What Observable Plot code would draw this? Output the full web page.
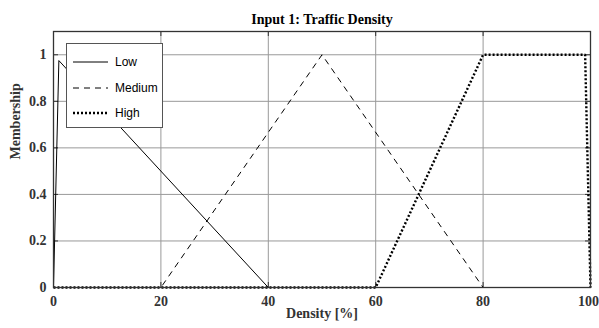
<!DOCTYPE html>
<html>
<head>
<meta charset="utf-8">
<script src="https://cdn.jsdelivr.net/npm/d3@7"></script>
<script src="https://cdn.jsdelivr.net/npm/@observablehq/plot@0.6"></script>
<style>
  html, body { margin: 0; padding: 0; background: #fff; }
  #wrap { position: relative; width: 599px; height: 328px; }
  #legend { position: absolute; left: 66px; top: 43px; width: 97px; height: 85px;
            border: 1px solid #555; background: #fff; box-sizing: border-box; }
</style>
</head>
<body>
<div id="wrap"></div>
<script>
// ---- data ----
const seriesNames = ["Low", "Medium", "High"];
const lowX = [0, 1, 40, 100];
const lowY = [0, 0.975, 0, 0];
const mediumX = [0, 20, 50, 80, 100];
const mediumY = [0, 0, 1, 0, 0];
const highX = [0, 60, 80, 99, 100];
const highY = [0, 0, 1, 1, 0];
const xTicks = [0, 20, 40, 60, 80, 100];
const yTicks = [0, 0.2, 0.4, 0.6, 0.8, 1];
const titleText = "Input 1: Traffic Density";
const xLabel = "Density [%]";
const yLabel = "Membership";

// ---- styles ----
const styles = {
  Low: { strokeWidth: 1, dash: null },
  Medium: { strokeWidth: 1, dash: "6,5" },
  High: { strokeWidth: 2.4, dash: "2,2" }
};
const toRows = (xs, ys, name) => xs.map((x, i) => ({ x, y: ys[i], name }));
const rows = {
  Low: toRows(lowX, lowY, "Low"),
  Medium: toRows(mediumX, mediumY, "Medium"),
  High: toRows(highX, highY, "High")
};

const W = 599, H = 328;
const mL = 53, mR = 9, mT = 31, mB = 41;
const plotH = H - mT - mB, plotW = W - mL - mR;
const serif = "'Liberation Serif', 'Times New Roman', serif";

const gridX = xTicks.filter(d => d > 0 && d < 100);
const gridY = yTicks.filter(d => d > 0);
const xTicksInner = xTicks.slice(0, -1);
const xTickLast = xTicks.slice(-1);

const chart = Plot.plot({
  width: W, height: H,
  marginLeft: mL, marginRight: mR, marginTop: mT, marginBottom: mB,
  style: { fontFamily: serif, fontSize: "14px", fontWeight: "bold", background: "#fff", color: "#333" },
  x: { domain: [0, 100], ticks: xTicks, label: null },
  y: { domain: [0, 1.1], ticks: yTicks, label: null },
  marks: [
    Plot.gridX(gridX, { stroke: "#999", strokeOpacity: 1, strokeWidth: 1 }),
    Plot.gridY(gridY, { stroke: "#999", strokeOpacity: 1, strokeWidth: 1 }),
    // inward tick marks
    Plot.gridX(xTicks, { stroke: "#333", strokeOpacity: 1, insetBottom: plotH - 5 }),
    Plot.gridX(xTicks, { stroke: "#333", strokeOpacity: 1, insetTop: plotH - 5 }),
    Plot.gridY(yTicks, { stroke: "#333", strokeOpacity: 1, insetRight: plotW - 5 }),
    Plot.gridY(yTicks, { stroke: "#333", strokeOpacity: 1, insetLeft: plotW - 5 }),
    Plot.axisX(xTicksInner, { anchor: "bottom", tickSize: 0, tickPadding: 9, label: null, fill: "#333", tickFormat: d => String(d) }),
    Plot.axisX(xTickLast, { anchor: "bottom", tickSize: 0, tickPadding: 9, label: null, fill: "#333", dx: -2, tickFormat: d => String(d) }),
    Plot.axisY(yTicks, { anchor: "left", tickSize: 0, tickPadding: 7, label: null, fill: "#333", tickFormat: d => String(d) }),
    ...seriesNames.map(n => Plot.line(rows[n], {
      x: "x", y: "y", stroke: "#000", strokeWidth: styles[n].strokeWidth,
      strokeDasharray: styles[n].dash, strokeLinejoin: "miter", strokeLinecap: "butt"
    })),
    Plot.frame({ stroke: "#333", strokeWidth: 1.3 }),
    Plot.text([titleText], { frameAnchor: "top", dy: -17, text: d => d, fill: "#000", fontSize: 14, fontWeight: "bold" }),
    Plot.text([xLabel], { frameAnchor: "bottom", dy: 30, text: d => d, fill: "#333", fontSize: 14, fontWeight: "bold" }),
    Plot.text([yLabel], { frameAnchor: "left", dx: -38, rotate: -90, text: d => d, fill: "#333", fontSize: 14, fontWeight: "bold" })
  ]
});

const wrap = document.getElementById("wrap");
wrap.appendChild(chart);

// legend overlay
const legend = document.createElement("div");
legend.id = "legend";
const ns = "http://www.w3.org/2000/svg";
const lsvg = document.createElementNS(ns, "svg");
lsvg.setAttribute("width", 95);
lsvg.setAttribute("height", 83);
const rowY = [18, 44, 69];
seriesNames.forEach((n, i) => {
  const ln = document.createElementNS(ns, "line");
  ln.setAttribute("x1", 6); ln.setAttribute("x2", 41);
  ln.setAttribute("y1", rowY[i]); ln.setAttribute("y2", rowY[i]);
  ln.setAttribute("stroke", "#000");
  ln.setAttribute("stroke-width", styles[n].strokeWidth);
  if (styles[n].dash) ln.setAttribute("stroke-dasharray", styles[n].dash);
  lsvg.appendChild(ln);
  const t = document.createElementNS(ns, "text");
  t.setAttribute("x", 48); t.setAttribute("y", rowY[i]);
  t.setAttribute("dy", "0.35em");
  t.setAttribute("font-family", "'Liberation Sans', Arial, sans-serif");
  t.setAttribute("font-size", 12);
  t.setAttribute("fill", "#000");
  t.textContent = n;
  lsvg.appendChild(t);
});
legend.appendChild(lsvg);
wrap.appendChild(legend);
</script>
</body>
</html>
